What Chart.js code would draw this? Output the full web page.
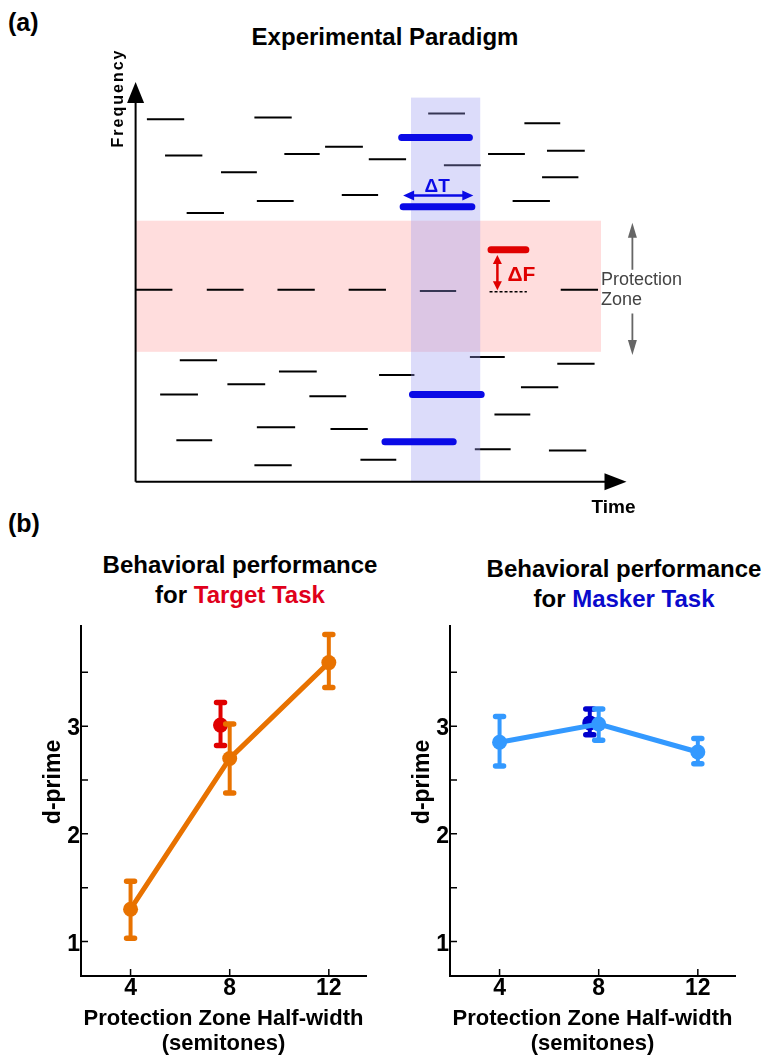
<!DOCTYPE html>
<html>
<head>
<meta charset="utf-8">
<title>Experimental Paradigm and Behavioral Performance</title>
<script src="https://cdn.jsdelivr.net/npm/chart.js"></script>
<style>
    body { margin: 0; background: #fff; font-family: "Liberation Sans", Arial, sans-serif; }
    #page { position: relative; width: 767px; height: 1061px; overflow: hidden; }
    canvas { position: absolute; }
    .lbl { position: absolute; font-weight: bold; white-space: nowrap; color: #000; }
    .ttl { position: absolute; width: 400px; text-align: center; font-weight: bold;
           font-size: 24px; line-height: 30px; white-space: nowrap; color: #000; }
</style>
</head>
<body>
<div id="page">
    <div class="lbl" style="left:8px; top:10px; font-size:25px; line-height:25px;">(a)</div>
    <div class="lbl" style="left:185px; top:25px; width:400px; text-align:center; font-size:24px; line-height:24px;">Experimental Paradigm</div>
    <div class="lbl" style="left:8px; top:511px; font-size:25px; line-height:25px;">(b)</div>
    <div class="ttl" style="left:40px; top:550px;">Behavioral performance<br>for <span style="color:#E0001B">Target Task</span></div>
    <div class="ttl" style="left:424px; top:554px;">Behavioral performance<br>for <span style="color:#0A0ACC">Masker Task</span></div>

    <canvas id="paradigm" width="767" height="520" style="left:0; top:0;"></canvas>
    <canvas id="targetChart" width="383" height="451" style="left:0; top:610px;"></canvas>
    <canvas id="maskerChart" width="384" height="451" style="left:383px; top:610px;"></canvas>
</div>

<script>
    Chart.defaults.font.family = '"Liberation Sans", Arial, sans-serif';

    // ---------- panel (a): tones as [start time, end time, frequency], axis units 0-100 ----------
    const backgroundTones = [
        [2.3, 9.9, 90.7], [24.2, 31.8, 91.1], [59.6, 67.1, 92.1], [79.2, 86.5, 89.7],
        [6.0, 13.6, 81.6], [30.3, 37.5, 82.0], [38.6, 46.3, 83.8], [47.5, 55.1, 80.7],
        [62.8, 70.3, 79.2], [71.8, 79.3, 82.0], [83.8, 91.5, 82.8], [17.4, 24.7, 77.4],
        [82.8, 90.2, 76.2], [24.7, 32.2, 70.2], [42.0, 49.4, 71.7], [76.8, 84.4, 70.2],
        [10.4, 18.0, 67.2],
        [0.0, 7.5, 48.0], [14.5, 22.0, 48.0], [28.9, 36.5, 48.0], [43.4, 51.0, 48.0],
        [57.9, 65.3, 47.7], [86.6, 94.2, 48.0],
        [9.0, 16.6, 30.4], [29.2, 36.9, 27.6], [49.6, 56.8, 26.7], [68.1, 75.2, 31.2],
        [85.9, 93.5, 29.5], [18.7, 26.4, 24.4], [5.0, 12.7, 21.8], [35.4, 42.9, 21.4],
        [78.5, 86.1, 23.6], [73.1, 80.4, 16.8], [24.7, 32.5, 13.6], [39.7, 47.3, 13.2],
        [8.3, 15.6, 10.4], [69.1, 76.4, 8.1], [84.2, 91.8, 7.8], [24.2, 31.8, 4.1],
        [45.8, 53.1, 5.5]
    ];
    const maskerTones = [[54.2, 68.0, 86.1], [54.5, 68.5, 68.8], [56.4, 70.4, 21.8], [50.8, 64.7, 10.0]];
    const targetTones = [[72.4, 79.5, 58.0]];
    const referenceTones = [[72.1, 79.7, 47.5]];
    const protectionZone = [32.5, 65.3];     // frequency range
    const zoneEndTime = 94.8;
    const maskerWindow = [56.1, 70.2, 96.1];  // start, end, top frequency
    const deltaT = [54.5, 68.8, 71.6];        // from, to, frequency
    const deltaF = [73.7, 47.9, 56.7];        // time, from, to
    const zoneArrows = [101.2, 53.0, 64.8, 42.1, 31.7];

    // ---------- panel (b) ----------
    const halfWidths = [4, 8, 12];
    const xTicks = [4, 8, 12];
    const yTicks = [1, 1.5, 2, 2.5, 3, 3.5];

    const targetDprime = [1.30, 2.70, 3.59];
    const targetLow = [1.03, 2.38, 3.36];
    const targetHigh = [1.56, 3.02, 3.85];
    const targetRefX = [7.63];
    const targetRef = [3.01];
    const targetRefLow = [2.82];
    const targetRefHigh = [3.22];

    const maskerDprime = [2.85, 3.02, 2.76];
    const maskerLow = [2.63, 2.87, 2.65];
    const maskerHigh = [3.09, 3.16, 2.885];
    const maskerRefX = [7.64];
    const maskerRef = [3.03];
    const maskerRefLow = [2.92];
    const maskerRefHigh = [3.16];

    function toSegments(list) {
        const pts = [];
        list.forEach(([t0, t1, f]) => {
            pts.push({ x: t0, y: f }, { x: t1, y: f }, { x: t1, y: null });
        });
        return pts;
    }

    function arrowHead(ctx, tx, ty, dx, dy, len, half) {
        const bx = tx - dx * len, by = ty - dy * len;
        ctx.beginPath();
        ctx.moveTo(tx, ty);
        ctx.lineTo(bx - dy * half, by + dx * half);
        ctx.lineTo(bx + dy * half, by - dx * half);
        ctx.closePath();
        ctx.fill();
    }

    const BLUE_INDEX = 2;

    const paradigmPlugin = {
        id: 'paradigm',
        beforeDatasetsDraw(chart) {
            const { ctx, scales: { x, y } } = chart;
            ctx.save();
            ctx.fillStyle = '#FFDDDD';
            const top = y.getPixelForValue(protectionZone[1]), bot = y.getPixelForValue(protectionZone[0]);
            ctx.fillRect(x.getPixelForValue(0), top, x.getPixelForValue(zoneEndTime) - x.getPixelForValue(0), bot - top);
            ctx.restore();
        },
        beforeDatasetDraw(chart, args) {
            if (args.index !== BLUE_INDEX) return;
            const { ctx, scales: { x, y } } = chart;
            ctx.save();
            ctx.fillStyle = 'rgba(155,155,240,0.35)';
            const l = x.getPixelForValue(maskerWindow[0]), r = x.getPixelForValue(maskerWindow[1]);
            const t = y.getPixelForValue(maskerWindow[2]), b = y.getPixelForValue(0);
            ctx.fillRect(l, t, r - l, b - t);
            ctx.restore();
        },
        afterDatasetsDraw(chart) {
            const { ctx, scales: { x, y } } = chart;
            const x0 = x.getPixelForValue(0), y0 = y.getPixelForValue(0);
            const xEnd = x.getPixelForValue(100), yEnd = y.getPixelForValue(100);
            ctx.save();
            // axes
            ctx.strokeStyle = '#000';
            ctx.fillStyle = '#000';
            ctx.lineWidth = 2;
            ctx.beginPath();
            ctx.moveTo(x0, y0); ctx.lineTo(x0, yEnd + 15);
            ctx.moveTo(x0, y0); ctx.lineTo(xEnd - 15, y0);
            ctx.stroke();
            arrowHead(ctx, x0, yEnd, 0, -1, 21, 8.5);
            arrowHead(ctx, xEnd, y0, 1, 0, 22, 8.5);

            // delta T arrow
            ctx.strokeStyle = ctx.fillStyle = '#0A0AE6';
            ctx.lineWidth = 2.5;
            const ta = x.getPixelForValue(deltaT[0]), tb = x.getPixelForValue(deltaT[1]), ty = y.getPixelForValue(deltaT[2]);
            ctx.beginPath(); ctx.moveTo(ta + 8, ty); ctx.lineTo(tb - 8, ty); ctx.stroke();
            arrowHead(ctx, ta, ty, -1, 0, 11, 5);
            arrowHead(ctx, tb, ty, 1, 0, 11, 5);
            ctx.font = 'bold 19px "Liberation Sans", Arial, sans-serif';
            ctx.textAlign = 'center'; ctx.textBaseline = 'alphabetic';
            ctx.fillText('\u0394T', (ta + tb) / 2 - 1, ty - 3.5);

            // delta F arrow
            ctx.strokeStyle = ctx.fillStyle = '#E00000';
            const fx = x.getPixelForValue(deltaF[0]), fa = y.getPixelForValue(deltaF[1]), fb = y.getPixelForValue(deltaF[2]);
            ctx.beginPath(); ctx.moveTo(fx, fb + 7); ctx.lineTo(fx, fa - 7); ctx.stroke();
            arrowHead(ctx, fx, fb, 0, -1, 9, 4.5);
            arrowHead(ctx, fx, fa, 0, 1, 9, 4.5);
            ctx.font = 'bold 21px "Liberation Sans", Arial, sans-serif';
            ctx.textAlign = 'left';
            ctx.fillText('\u0394F', fx + 10, (fa + fb) / 2 + 8);

            // protection zone arrows and label
            ctx.strokeStyle = ctx.fillStyle = '#666';
            ctx.lineWidth = 1.8;
            const gx = x.getPixelForValue(zoneArrows[0]);
            const u0 = y.getPixelForValue(zoneArrows[1]), u1 = y.getPixelForValue(zoneArrows[2]);
            const d0 = y.getPixelForValue(zoneArrows[3]), d1 = y.getPixelForValue(zoneArrows[4]);
            ctx.beginPath(); ctx.moveTo(gx, u0); ctx.lineTo(gx, u1 + 10); ctx.moveTo(gx, d0); ctx.lineTo(gx, d1 - 10); ctx.stroke();
            arrowHead(ctx, gx, u1, 0, -1, 15, 4.5);
            arrowHead(ctx, gx, d1, 0, 1, 15, 4.5);
            ctx.fillStyle = '#444';
            ctx.font = '18px "Liberation Sans", Arial, sans-serif';
            ctx.fillText('Protection', x.getPixelForValue(zoneEndTime), 285);
            ctx.fillText('Zone', x.getPixelForValue(zoneEndTime), 305);

            // axis labels
            ctx.fillStyle = '#000';
            ctx.font = 'bold 19px "Liberation Sans", Arial, sans-serif';
            ctx.textAlign = 'center';
            ctx.fillText('Time', xEnd - 13, y0 + 31);
            ctx.save();
            ctx.translate(x0 - 17, yEnd + 16);
            ctx.rotate(-Math.PI / 2);
            ctx.font = 'bold 16px "Liberation Sans", Arial, sans-serif';
            ctx.letterSpacing = '2px';
            ctx.textBaseline = 'middle';
            ctx.fillText('Frequency', 0, 0);
            ctx.restore();
            ctx.restore();
        }
    };

    new Chart(document.getElementById('paradigm'), {
        type: 'line',
        data: {
            datasets: [
                { data: toSegments(backgroundTones), borderColor: '#000', borderWidth: 2, borderCapStyle: 'butt', pointRadius: 0, order: 4, clip: false },
                { data: toSegments(referenceTones), borderColor: '#000', borderWidth: 1.5, borderDash: [3, 2], pointRadius: 0, order: 3, clip: false },
                { data: toSegments(maskerTones), borderColor: '#0A0AE6', borderWidth: 7, borderCapStyle: 'round', pointRadius: 0, order: 2, clip: false },
                { data: toSegments(targetTones), borderColor: '#E00000', borderWidth: 7, borderCapStyle: 'round', pointRadius: 0, order: 1, clip: false }
            ]
        },
        options: {
            responsive: false,
            animation: false,
            devicePixelRatio: 1,
            layout: { padding: { left: 135.6, right: 140.5, top: 82, bottom: 38.3 }, autoPadding: false },
            plugins: { legend: { display: false }, tooltip: { enabled: false } },
            scales: {
                x: { type: 'linear', min: 0, max: 100, display: false },
                y: { type: 'linear', min: 0, max: 100, display: false }
            }
        },
        plugins: [paradigmPlugin]
    });

    // ---------- panel (b) helpers ----------
    const errorBars = {
        id: 'errorBars',
        beforeDatasetDraw(chart, args) {
            const ds = chart.data.datasets[args.index];
            if (!ds.errLow) return;
            const { ctx, scales: { x, y } } = chart;
            ctx.save();
            ctx.strokeStyle = ds.borderColor;
            ctx.lineCap = 'round';
            ds.data.forEach((p, i) => {
                const px = x.getPixelForValue(p.x);
                const top = y.getPixelForValue(ds.errHigh[i]), bot = y.getPixelForValue(ds.errLow[i]);
                ctx.lineWidth = 4;
                ctx.beginPath(); ctx.moveTo(px, top); ctx.lineTo(px, bot); ctx.stroke();
                ctx.lineWidth = 5.5;
                ctx.beginPath();
                ctx.moveTo(px - 4, top); ctx.lineTo(px + 4, top);
                ctx.moveTo(px - 4, bot); ctx.lineTo(px + 4, bot);
                ctx.stroke();
            });
            ctx.restore();
        }
    };

    const axisDecor = {
        id: 'axisDecor',
        afterDraw(chart) {
            const { ctx, chartArea: a, scales: { x, y } } = chart;
            ctx.save();
            ctx.strokeStyle = '#000';
            ctx.lineWidth = 1.5;
            ctx.beginPath();
            yTicks.forEach(v => { const py = y.getPixelForValue(v); ctx.moveTo(a.left, py); ctx.lineTo(a.left + 7, py); });
            xTicks.forEach(v => { const px = x.getPixelForValue(v); ctx.moveTo(px, a.bottom); ctx.lineTo(px, a.bottom - 7); });
            ctx.stroke();
            ctx.translate(a.left - 27.5, a.top + 156);
            ctx.rotate(-Math.PI / 2);
            ctx.fillStyle = '#000';
            ctx.font = 'bold 23px "Liberation Sans", Arial, sans-serif';
            ctx.textAlign = 'center';
            ctx.textBaseline = 'middle';
            ctx.fillText('d-prime', 0, 0);
            ctx.restore();
        }
    };

    function points(xs, ys) {
        return xs.map((v, i) => ({ x: v, y: ys[i] }));
    }

    function perfChart(id, yAxisWidth, rightPad, main, ref) {
        new Chart(document.getElementById(id), {
            type: 'line',
            data: {
                datasets: [
                    {
                        data: points(halfWidths, main.mean), errLow: main.low, errHigh: main.high,
                        borderColor: main.color, backgroundColor: main.color, borderWidth: 5,
                        pointRadius: 7.5, pointBorderWidth: 0, pointBackgroundColor: main.color, clip: false
                    },
                    {
                        data: points(ref.x, ref.mean), errLow: ref.low, errHigh: ref.high,
                        borderColor: ref.color, backgroundColor: ref.color, showLine: false,
                        pointRadius: 7.5, pointBorderWidth: 0, pointBackgroundColor: ref.color, clip: false
                    }
                ]
            },
            options: {
                responsive: false,
                animation: false,
                devicePixelRatio: 1,
                layout: { padding: { left: 0, right: rightPad, top: 16, bottom: 0 }, autoPadding: false },
                plugins: { legend: { display: false }, tooltip: { enabled: false } },
                scales: {
                    x: {
                        type: 'linear', min: 2, max: 13.5,
                        afterBuildTicks: s => { s.ticks = xTicks.map(v => ({ value: v })); },
                        afterFit: s => { s.height = 85; },
                        grid: { display: true, drawOnChartArea: false, drawTicks: false },
                        border: { color: '#000', width: 2 },
                        ticks: { color: '#000', font: { size: 23, weight: 'bold' }, padding: -1, maxRotation: 0, autoSkip: false },
                        title: {
                            display: true, text: ['Protection Zone Half-width', '(semitones)'], color: '#000',
                            font: { size: 22, weight: 'bold', lineHeight: 1.11 }, padding: { top: 0, bottom: 5 }
                        }
                    },
                    y: {
                        type: 'linear', min: 0.68, max: 3.93,
                        afterBuildTicks: s => { s.ticks = yTicks.map(v => ({ value: v })); },
                        afterFit: s => { s.width = yAxisWidth; },
                        grid: { display: true, drawOnChartArea: false, drawTicks: false },
                        border: { color: '#000', width: 2 },
                        ticks: {
                            color: '#000', font: { size: 23, weight: 'bold' }, padding: 1, labelOffset: 3,
                            callback: v => (Number.isInteger(v) ? String(v) : '')
                        }
                    }
                }
            },
            plugins: [errorBars, axisDecor]
        });
    }

    perfChart('targetChart', 81, 17,
        { mean: targetDprime, low: targetLow, high: targetHigh, color: '#E87200' },
        { x: targetRefX, mean: targetRef, low: targetRefLow, high: targetRefHigh, color: '#E00000' });

    perfChart('maskerChart', 67, 32,
        { mean: maskerDprime, low: maskerLow, high: maskerHigh, color: '#3399FF' },
        { x: maskerRefX, mean: maskerRef, low: maskerRefLow, high: maskerRefHigh, color: '#0000CC' });
</script>
</body>
</html>
